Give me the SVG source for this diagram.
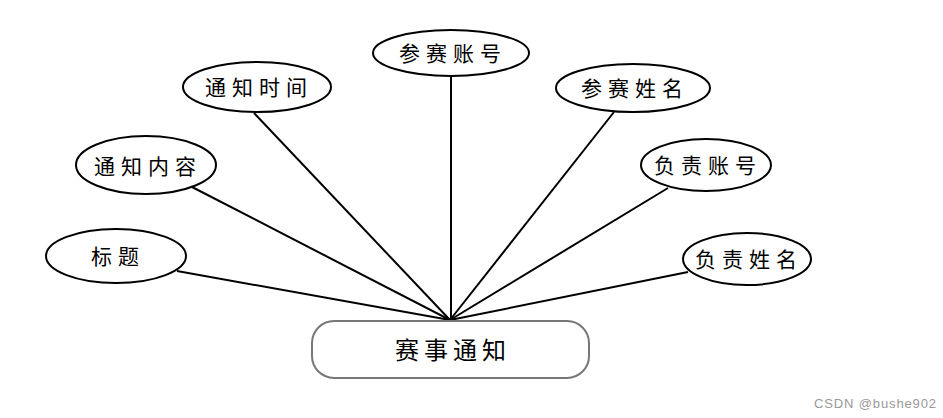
<svg xmlns="http://www.w3.org/2000/svg" width="943" height="418" viewBox="0 0 943 418">
<style>
.attr ellipse{fill:#fff;stroke:#000;stroke-width:2}
.attr text,.ent text{font-family:"Noto Sans CJK SC","Noto Sans",sans-serif;fill:#000;text-anchor:middle;dominant-baseline:central}
.attr text{font-size:21px;letter-spacing:6px}
.ent rect{fill:#fff;stroke:#777;stroke-width:2}
.ent text{font-size:24px;letter-spacing:5px}
#connectors line{stroke:#000;stroke-width:2}
.wm{font-family:"Liberation Sans",Arial,sans-serif;font-size:13px;fill:#999}
</style>
<rect width="943" height="418" fill="#fff"/>
<g id="connectors">
<line x1="177" y1="271" x2="450" y2="320"/>
<line x1="192" y1="187" x2="450" y2="320"/>
<line x1="254" y1="113" x2="450" y2="320"/>
<line x1="451" y1="76" x2="451" y2="320"/>
<line x1="614" y1="112" x2="450" y2="320"/>
<line x1="668" y1="188" x2="450" y2="320"/>
<line x1="688" y1="272" x2="450" y2="320"/>
</g>
<g id="n-biaoti" class="attr"><ellipse cx="116" cy="256" rx="70" ry="27"/><text x="118" y="255">标题</text></g>
<g id="n-tongzhineirong" class="attr"><ellipse cx="146" cy="165" rx="70" ry="29"/><text x="148" y="165">通知内容</text></g>
<g id="n-tongzhishijian" class="attr"><ellipse cx="257" cy="87" rx="74" ry="25"/><text x="259" y="86">通知时间</text></g>
<g id="n-cansaizhanghao" class="attr"><ellipse cx="451" cy="53" rx="78" ry="23"/><text x="453" y="52">参赛账号</text></g>
<g id="n-cansaixingming" class="attr"><ellipse cx="633" cy="88" rx="77" ry="24"/><text x="635" y="87">参赛姓名</text></g>
<g id="n-fuzezhanghao" class="attr"><ellipse cx="706" cy="165" rx="65" ry="26"/><text x="708" y="164">负责账号</text></g>
<g id="n-fuzexingming" class="attr"><ellipse cx="747" cy="259" rx="64" ry="26"/><text x="749" y="258">负责姓名</text></g>
<g id="n-saishitongzhi" class="ent"><rect x="312" y="321" width="277" height="57" rx="22"/><text x="453" y="348">赛事通知</text></g>
<text class="wm" x="814" y="408" textLength="122" lengthAdjust="spacing">CSDN @bushe902</text>
</svg>
